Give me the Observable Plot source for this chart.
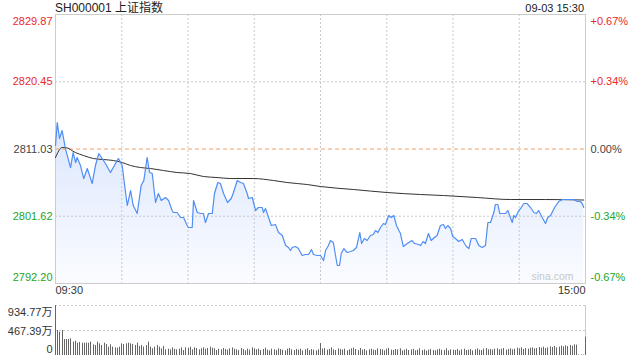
<!DOCTYPE html>
<html><head><meta charset="utf-8">
<script src="https://cdn.jsdelivr.net/npm/d3@7"></script>
<script src="https://cdn.jsdelivr.net/npm/@observablehq/plot@0.6"></script>
<style>
body{margin:0;background:#fff;}
#wrap{position:relative;width:640px;height:360px;overflow:hidden;font-family:"Liberation Sans",Arial,"Noto Sans CJK SC",sans-serif;}
.lbl{position:absolute;color:#222;white-space:nowrap;line-height:14px;}
</style></head><body>
<div id="wrap">
 <div class="lbl" style="left:55px;top:1px;font-size:12px;font-family:'Liberation Sans',Arial,'Noto Sans CJK SC',sans-serif;">SH000001 上证指数</div>
 <div class="lbl" style="right:56px;top:1px;font-size:11px;">09-03 15:30</div>
 <div id="top" style="position:absolute;left:0;top:0"></div>
 <div id="vol" style="position:absolute;left:0;top:300px"></div>
</div>
<script>
// ---- data ----
const prevClose = 2811.03;
const priceTicks = [2792.20, 2801.62, 2811.03, 2820.45, 2829.87];
const priceTickText = ["2792.20", "2801.62", "2811.03", "2820.45", "2829.87"];
const pctTickText = ["-0.67%", "-0.34%", "0.00%", "+0.34%", "+0.67%"];
const timeLabels = ["09:30", "15:00"];
const volTicks = [0, 467.39, 934.77];
const volTickText = ["0", "467.39万", "934.77万"];

const priceT = [0,0.8,1.8,3.0,4.5,6.8,8.0,9.1,9.8,11.3,
12.8,14.4,16.6,18.1,19.6,21.1,22.6,24.9,27.2,28.5,
30.2,31.2,32.5,34.0,35.2,37.0,38.8,40.0,41.5,42.6,
43.8,45.3,46.6,47.9,49.8,51.2,52.8,53.4,55.1,56.6,
58.0,59.6,60.2,61.9,62.5,64.2,65.7,67.0,67.9,69.3,
71.0,72.0,73.5,74.7,76.1,77.9,79.6,80.6,82.3,83.8,
85.1,86.8,87.4,89.1,90.6,91.9,93.6,94.2,95.1,96.5,
97.7,99.6,101.0,102.7,104.2,105.5,106.4,107.2,108.7,110.0,
111.7,113.2,114.6,115.9,116.8,118.5,120.0,121.4,122.3,123.6,
124.5,125.8,126.8,127.6,128.6,129.4,130.6,132.1,133.6,134.9,
136.3,137.8,138.6,139.9,141.1,142.6,143.9,144.9,146.0,147.2,
148.5,149.4,150.9,152.0,153.2,154.4,155.5,156.2,157.5,159.3,
161.5,162.6,164.4,165.3,166.5,167.5,168.9,170.1,171.6,172.8,
174.3,175.7,176.6,177.6,178.9,179.9,181.1,182.6,184.2,185.2,
186.1,187.2,188.2,190.2,191.7,193.2,194.7,195.8,197.0,198.5,
199.2,200.3,201.2,202.7,203.8,204.8,206.0,206.8,207.5,208.3,
209.8,210.9,212.1,213.6,215.1,216.6,217.8,218.8,220.4,221.9,
222.9,224.2,226.0,227.9,229.5,231.7,233.2,234.7,236.3,237.7,
238.5,239.2];
const priceV = [2811.52,2814.74,2812.50,2813.62,2811.10,2808.44,2810.54,2809.14,2809.84,2808.72,
2806.90,2808.30,2806.20,2808.72,2810.40,2809.70,2809.00,2807.74,2809.00,2809.70,
2808.72,2806.20,2803.12,2805.22,2803.12,2802.00,2805.92,2806.62,2809.84,2807.74,
2807.60,2803.54,2804.80,2803.82,2804.24,2803.82,2802.42,2802.14,2802.14,2801.44,
2801.44,2800.32,2800.04,2800.04,2803.82,2802.14,2802.00,2802.00,2800.74,2802.00,
2802.00,2804.80,2806.34,2806.20,2804.80,2803.54,2804.10,2804.94,2806.62,2806.34,
2806.20,2804.80,2804.10,2804.24,2802.42,2802.84,2802.84,2802.14,2802.70,2801.44,
2800.32,2800.46,2799.34,2798.92,2797.52,2797.24,2796.82,2797.24,2797.38,2797.10,
2796.12,2796.26,2796.26,2796.96,2796.26,2796.12,2796.12,2795.42,2796.82,2797.52,
2798.22,2797.94,2796.12,2794.72,2794.72,2796.40,2797.10,2796.54,2796.68,2796.82,
2797.24,2799.34,2797.80,2798.50,2798.22,2798.92,2799.06,2799.62,2799.34,2800.04,
2800.60,2800.46,2801.72,2801.44,2801.72,2800.32,2799.62,2799.20,2797.38,2797.80,
2798.22,2797.80,2797.66,2797.52,2798.08,2797.80,2799.20,2798.22,2798.64,2798.92,
2800.32,2800.46,2799.90,2800.32,2799.90,2798.78,2798.50,2798.08,2798.36,2797.80,
2797.38,2797.10,2798.50,2798.50,2797.52,2797.24,2797.52,2800.74,2800.74,2802.14,
2803.26,2803.26,2802.00,2802.00,2802.00,2802.42,2801.44,2800.74,2801.72,2801.44,
2802.42,2802.84,2803.40,2803.40,2802.84,2802.14,2802.00,2802.42,2801.44,2800.60,
2801.44,2801.72,2802.84,2803.68,2803.96,2803.96,2803.96,2803.96,2803.68,2803.68,
2803.40,2802.84];

const avgT = [0,3,4.5,9,12.7,17.2,21.7,26.3,30.2,34,38.5,43,48.9,55.1,61.1,67,73.2,79.2,89.7,98.7,104.9,114,120,135,150.2,165.3,175.7,191,206,221.9,239.2];
const avgV = [2809.84,2811.24,2811.24,2810.54,2810.12,2809.70,2809.56,2809.42,2809.14,2808.72,2808.44,2808.30,2808.02,2807.74,2807.60,2807.18,2807.04,2806.90,2806.90,2806.62,2806.34,2806.06,2805.78,2805.36,2804.94,2804.66,2804.52,2804.24,2803.96,2803.96,2803.89];

// volume per minute (万), index = minute from 09:30
const volume = [934.77,467,436,467,299,299,299,312,249,268,
230,243,230,230,230,230,249,199,187,249,
218,187,230,206,156,199,156,143,137,156,
218,206,218,230,218,206,187,230,168,187,
156,187,249,156,125,156,187,156,125,168,
106,118,106,143,118,106,118,143,93,143,
137,156,106,143,131,106,125,143,118,131,
156,137,125,93,118,106,131,112,100,125,
143,118,106,93,131,112,87,118,100,143,
125,106,118,93,112,137,100,87,118,106,
93,125,112,100,87,118,131,106,93,112,
100,118,87,106,125,93,112,100,87,106,
224,
118,131,100,112,143,106,93,125,112,
100,118,87,106,125,137,112,93,131,100,
112,87,106,118,100,93,125,112,106,87,
118,131,100,93,112,106,125,87,100,118,
93,106,112,87,100,125,93,106,81,100,
112,93,87,106,118,100,93,125,87,106,
100,93,112,87,106,118,93,100,112,87,
106,125,100,93,118,131,106,112,100,118,
125,106,118,131,100,112,125,106,118,137,
125,143,112,131,118,137,143,125,131,150,
137,156,131,143,162,150,168,143,156,174,
162,181,168,187,174,199,193,
10,10,10,
343];

// ---- build tables ----
const yMin = priceTicks[0], yMax = priceTicks[priceTicks.length - 1];
const priceData = priceT.map((t, i) => ({t, p: priceV[i]}));
const avgData = avgT.map((t, i) => ({t, p: avgV[i]}));
const volData = volume.map((v, i) => ({t: i, v}));
const RED = "#e8292b", GREEN = "#23a523", GRAY = "#444";
const ticks = priceTicks.map((v, i) => ({
  v, left: priceTickText[i], right: pctTickText[i],
  color: v > prevClose + 0.001 ? RED : v < prevClose - 0.001 ? GREEN : GRAY, i
}));
const last = ticks.length - 1;
const midTicks = ticks.filter(d => d.i > 0 && d.i < last);
const topTick = ticks.filter(d => d.i === last);
const botTick = ticks.filter(d => d.i === 0);
const gridTimes = [30, 60, 90, 120, 150, 180, 210];
const FONT = "'Liberation Sans', Arial, 'Noto Sans CJK SC', sans-serif";

const gradDefs = () => {
  const defs = document.createElementNS("http://www.w3.org/2000/svg", "defs");
  defs.innerHTML = '<linearGradient id="pg" x1="0" y1="0" x2="0" y2="1">' +
    '<stop offset="0" stop-color="#5b8ff9" stop-opacity="0.22"/>' +
    '<stop offset="1" stop-color="#5b8ff9" stop-opacity="0.03"/></linearGradient>';
  return defs;
};

const topPlot = Plot.plot({
  width: 640, height: 300,
  marginTop: 14, marginBottom: 17, marginLeft: 55, marginRight: 55,
  x: {domain: [0, 240], axis: null},
  y: {domain: [yMin, yMax], axis: null},
  style: {fontFamily: FONT, fontSize: "11px", background: "transparent", color: "#333"},
  marks: [
    gradDefs,
    Plot.areaY(priceData, {x: "t", y1: () => yMin, y2: "p", fill: "url(#pg)"}),
    Plot.ruleX(gridTimes, {stroke: "#c8c8c8", strokeDasharray: "2,2"}),
    Plot.ruleY([priceTicks[1], priceTicks[3]], {stroke: "#c8c8c8", strokeDasharray: "2,2"}),
    Plot.ruleY([prevClose], {stroke: "#f2a16a", strokeDasharray: "4,3"}),
    Plot.frame({stroke: "#cccccc"}),
    Plot.lineY(avgData, {x: "t", y: "p", stroke: "#333", strokeWidth: 1, curve: "monotone-x"}),
    Plot.lineY(priceData, {x: "t", y: "p", stroke: "#4f8ef5", strokeWidth: 1.2}),
    Plot.text(midTicks, {y: "v", text: "left", fill: "color", frameAnchor: "left", textAnchor: "end", dx: -3}),
    Plot.text(topTick, {y: "v", text: "left", fill: "color", frameAnchor: "left", textAnchor: "end", dx: -3, dy: 7}),
    Plot.text(botTick, {y: "v", text: "left", fill: "color", frameAnchor: "left", textAnchor: "end", dx: -3, dy: -6}),
    Plot.text(midTicks, {y: "v", text: "right", fill: "color", frameAnchor: "right", textAnchor: "start", dx: 5}),
    Plot.text(topTick, {y: "v", text: "right", fill: "color", frameAnchor: "right", textAnchor: "start", dx: 5, dy: 7}),
    Plot.text(botTick, {y: "v", text: "right", fill: "color", frameAnchor: "right", textAnchor: "start", dx: 5, dy: -6}),
    Plot.text([timeLabels[0]], {x: () => 0, text: d => d, frameAnchor: "bottom", textAnchor: "start", dy: 10, fill: "#333"}),
    Plot.text([timeLabels[1]], {x: () => 240, text: d => d, frameAnchor: "bottom", textAnchor: "end", dy: 10, fill: "#333"}),
    Plot.text(["sina.com"], {text: d => d, frameAnchor: "bottom-right", textAnchor: "end", dx: -12, dy: -4, fill: "#c8c8c8", fontSize: 10.5})
  ]
});
document.getElementById("top").appendChild(topPlot);

const volPlot = Plot.plot({
  width: 640, height: 60,
  marginTop: 5, marginBottom: 5, marginLeft: 55, marginRight: 55,
  x: {domain: [0, 240], axis: null, round: true},
  y: {domain: [0, volTicks[2]], axis: null},
  style: {fontFamily: FONT, fontSize: "11px", background: "transparent", color: "#333"},
  marks: [
    Plot.ruleY([volTicks[1], volTicks[2]], {stroke: "#c8c8c8", strokeDasharray: "2,2"}),
    Plot.ruleX([0, 240], {stroke: "#cccccc"}),
    Plot.ruleX(volData, {x: "t", y1: () => 0, y2: "v", stroke: "#666", strokeWidth: 1}),
    Plot.text([volTicks[2]], {y: d => d, text: () => volTickText[2], frameAnchor: "left", textAnchor: "end", dx: -3, dy: 7, fill: "#333"}),
    Plot.text([volTicks[1]], {y: d => d, text: () => volTickText[1], frameAnchor: "left", textAnchor: "end", dx: -3, dy: 1, fill: "#333"}),
    Plot.text([volTicks[0]], {y: d => d, text: () => volTickText[0], frameAnchor: "left", textAnchor: "end", dx: -3, dy: -6, fill: "#333"})
  ]
});
document.getElementById("vol").appendChild(volPlot);
</script>
</body></html>
